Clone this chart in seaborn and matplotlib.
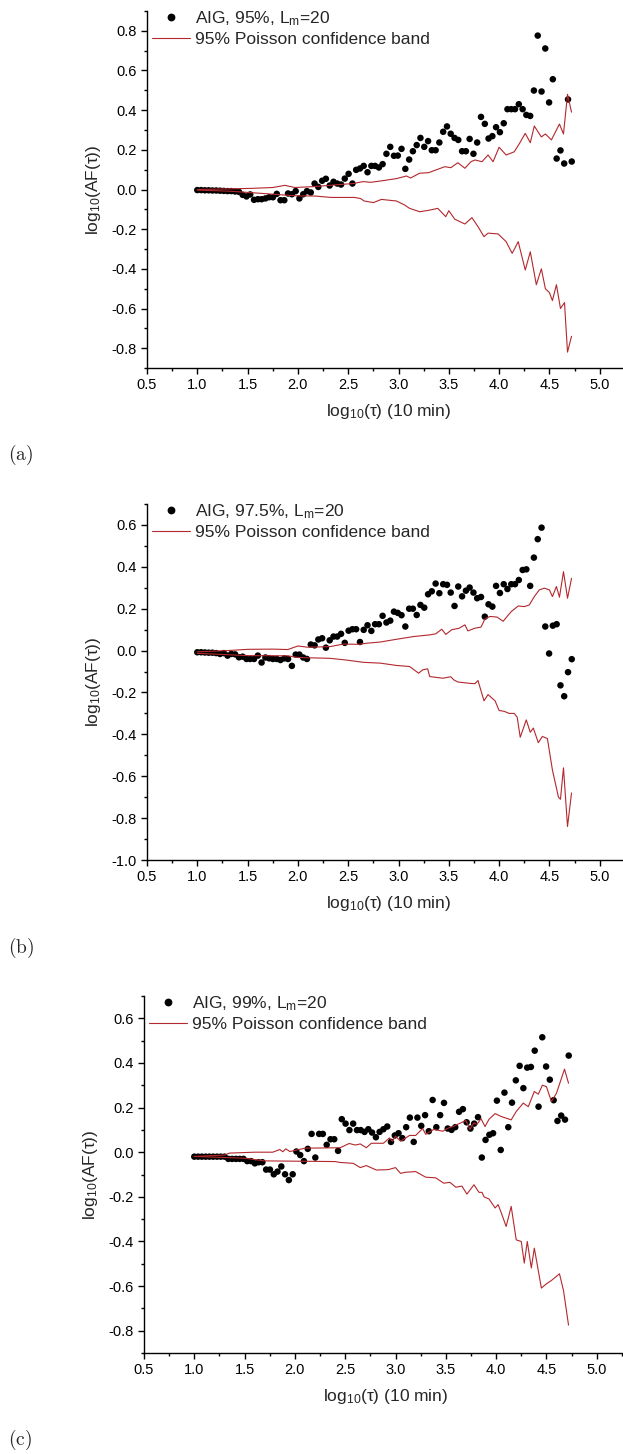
import numpy as np
import pandas as pd
import matplotlib
matplotlib.use('Agg')
import matplotlib.pyplot as plt
from matplotlib.lines import Line2D
from matplotlib.ticker import MultipleLocator, FormatStrFormatter
import seaborn as sns

# ---------------- data ----------------
log_tau = [1.000, 1.038, 1.075, 1.113, 1.150, 1.188, 1.226, 1.263, 1.301, 1.338,
           1.376, 1.414, 1.451, 1.489, 1.526, 1.564, 1.602, 1.639, 1.677, 1.714,
           1.752, 1.790, 1.827, 1.865, 1.902, 1.940, 1.978, 2.015, 2.053, 2.090,
           2.128, 2.166, 2.203, 2.241, 2.278, 2.316, 2.354, 2.391, 2.429, 2.466,
           2.504, 2.542, 2.579, 2.617, 2.654, 2.692, 2.730, 2.767, 2.805, 2.842,
           2.880, 2.918, 2.955, 2.993, 3.030, 3.068, 3.106, 3.143, 3.181, 3.218,
           3.256, 3.294, 3.331, 3.369, 3.406, 3.444, 3.482, 3.519, 3.557, 3.594,
           3.632, 3.670, 3.707, 3.745, 3.782, 3.820, 3.858, 3.895, 3.933, 3.970,
           4.008, 4.046, 4.083, 4.121, 4.158, 4.196, 4.234, 4.271, 4.309, 4.346,
           4.384, 4.422, 4.459, 4.497, 4.534, 4.572, 4.610, 4.647, 4.685, 4.722]

af_95 = [-0.003, -0.003, -0.004, -0.004, -0.005, -0.005, -0.006, -0.007, -0.008, -0.008,
         -0.010, -0.012, -0.027, -0.035, -0.025, -0.052, -0.049, -0.049, -0.045, -0.039,
         -0.039, -0.022, -0.054, -0.054, -0.020, -0.024, -0.008, -0.045, -0.024, -0.008,
         -0.015, 0.030, 0.013, 0.044, 0.054, 0.020, 0.039, 0.030, 0.025, 0.055,
         0.079, 0.030, 0.099, 0.106, 0.119, 0.087, 0.119, 0.119, 0.111, 0.128,
         0.180, 0.215, 0.170, 0.171, 0.205, 0.104, 0.151, 0.193, 0.224, 0.260,
         0.215, 0.244, 0.198, 0.198, 0.237, 0.291, 0.318, 0.281, 0.260, 0.250,
         0.193, 0.193, 0.255, 0.180, 0.237, 0.366, 0.331, 0.257, 0.269, 0.314,
         0.289, 0.334, 0.405, 0.405, 0.405, 0.430, 0.405, 0.376, 0.371, 0.499,
         0.776, 0.494, 0.711, 0.439, 0.556, 0.156, 0.197, 0.131, 0.454, 0.141]

af_975 = [-0.008, -0.008, -0.009, -0.010, -0.010, -0.012, -0.016, -0.012, -0.024, -0.016,
          -0.018, -0.032, -0.029, -0.040, -0.040, -0.040, -0.024, -0.057, -0.033, -0.037,
          -0.040, -0.040, -0.045, -0.037, -0.040, -0.073, -0.019, -0.019, -0.033, -0.040,
          0.029, 0.025, 0.053, 0.059, 0.014, 0.049, 0.067, 0.067, 0.080, 0.037,
          0.095, 0.102, 0.102, 0.041, 0.099, 0.121, 0.094, 0.126, 0.126, 0.166,
          0.134, 0.143, 0.186, 0.180, 0.169, 0.115, 0.200, 0.200, 0.170, 0.218,
          0.205, 0.269, 0.283, 0.320, 0.274, 0.317, 0.314, 0.277, 0.213, 0.306,
          0.259, 0.286, 0.301, 0.277, 0.250, 0.256, 0.162, 0.221, 0.210, 0.309,
          0.275, 0.317, 0.294, 0.317, 0.317, 0.337, 0.385, 0.388, 0.309, 0.444,
          0.532, 0.587, 0.115, -0.014, 0.119, 0.126, -0.166, -0.218, -0.103, -0.041]

af_99 = [-0.020, -0.020, -0.020, -0.020, -0.020, -0.020, -0.020, -0.020, -0.020, -0.030,
         -0.030, -0.030, -0.030, -0.030, -0.040, -0.040, -0.050, -0.045, -0.045, -0.078,
         -0.078, -0.099, -0.087, -0.064, -0.099, -0.125, -0.099, 0.003, -0.013, -0.040,
         0.015, 0.082, -0.024, 0.082, 0.082, 0.033, 0.058, 0.058, 0.006, 0.148,
         0.128, 0.099, 0.128, 0.099, 0.099, 0.091, 0.103, 0.088, 0.067, 0.091,
         0.103, 0.115, 0.046, 0.075, 0.085, 0.063, 0.112, 0.155, 0.046, 0.155,
         0.118, 0.166, 0.094, 0.234, 0.112, 0.166, 0.221, 0.106, 0.100, 0.112,
         0.181, 0.193, 0.134, 0.106, 0.128, 0.157, -0.024, 0.055, 0.078, 0.085,
         0.231, 0.010, 0.267, 0.112, 0.222, 0.322, 0.387, 0.287, 0.379, 0.382,
         0.455, 0.204, 0.515, 0.384, 0.325, 0.233, 0.140, 0.164, 0.146, 0.433]

# Poisson band, panel (a)
band_a_up_x = [1.00, 1.20, 1.40, 1.55, 1.75, 1.87, 1.97, 2.17, 2.44, 2.55, 2.65, 2.72, 2.85,
               2.98, 3.08, 3.12, 3.21, 3.30, 3.38, 3.46, 3.52, 3.59, 3.66, 3.72, 3.76, 3.83,
               3.89, 3.94, 4.00, 4.07, 4.15, 4.20, 4.26, 4.31, 4.35, 4.42, 4.46, 4.52, 4.60,
               4.64, 4.68, 4.72]
band_a_up_y = [0.000, 0.002, 0.004, 0.006, 0.010, 0.021, 0.010, 0.015, 0.026, 0.030, 0.040,
               0.036, 0.045, 0.055, 0.068, 0.058, 0.082, 0.085, 0.100, 0.115, 0.110, 0.135,
               0.107, 0.140, 0.149, 0.140, 0.174, 0.140, 0.213, 0.174, 0.190, 0.230, 0.283,
               0.236, 0.320, 0.265, 0.280, 0.250, 0.330, 0.280, 0.480, 0.390]
band_a_lo_x = [1.00, 1.30, 1.54, 1.87, 2.00, 2.17, 2.33, 2.56, 2.62, 2.66, 2.75, 2.83, 2.98,
               3.06, 3.11, 3.21, 3.30, 3.39, 3.47, 3.50, 3.56, 3.66, 3.73, 3.79, 3.85, 3.89,
               3.99, 4.07, 4.13, 4.19, 4.26, 4.31, 4.37, 4.42, 4.46, 4.50, 4.53, 4.57, 4.61,
               4.65, 4.68, 4.72]
band_a_lo_y = [-0.003, -0.008, -0.016, -0.028, -0.032, -0.033, -0.040, -0.040, -0.045, -0.058,
               -0.066, -0.050, -0.058, -0.078, -0.095, -0.112, -0.105, -0.095, -0.137, -0.107,
               -0.150, -0.174, -0.142, -0.187, -0.238, -0.220, -0.224, -0.263, -0.322, -0.263,
               -0.406, -0.314, -0.480, -0.400, -0.500, -0.520, -0.560, -0.480, -0.600, -0.570,
               -0.820, -0.740]

# Poisson band, panel (b)
band_b_up_x = [1.00, 1.30, 1.50, 1.75, 1.90, 2.00, 2.10, 2.32, 2.45, 2.61, 2.68, 2.82, 2.98,
               3.15, 3.31, 3.37, 3.43, 3.47, 3.53, 3.60, 3.66, 3.69, 3.76, 3.82, 3.86, 3.91,
               3.98, 4.04, 4.12, 4.19, 4.25, 4.30, 4.35, 4.40, 4.45, 4.50, 4.53, 4.57, 4.60,
               4.64, 4.68, 4.72]
band_b_up_y = [-0.006, 0.000, 0.006, 0.007, 0.005, 0.022, 0.016, 0.019, 0.031, 0.030, 0.035,
               0.041, 0.054, 0.067, 0.075, 0.080, 0.102, 0.077, 0.100, 0.106, 0.123, 0.094,
               0.107, 0.112, 0.152, 0.163, 0.160, 0.140, 0.186, 0.213, 0.210, 0.218, 0.258,
               0.290, 0.298, 0.290, 0.258, 0.306, 0.255, 0.377, 0.250, 0.345]
band_b_lo_x = [1.00, 1.50, 1.90, 2.00, 2.32, 2.48, 2.65, 2.82, 2.98, 3.11, 3.20, 3.24, 3.29,
               3.31, 3.44, 3.52, 3.55, 3.59, 3.70, 3.76, 3.79, 3.85, 3.89, 3.96, 4.00, 4.05,
               4.10, 4.15, 4.18, 4.21, 4.27, 4.31, 4.34, 4.39, 4.43, 4.48, 4.53, 4.59, 4.61,
               4.64, 4.68, 4.72]
band_b_lo_y = [-0.013, -0.024, -0.025, -0.033, -0.037, -0.045, -0.056, -0.060, -0.071, -0.076,
               -0.108, -0.092, -0.087, -0.124, -0.132, -0.125, -0.140, -0.150, -0.156, -0.158,
               -0.143, -0.240, -0.210, -0.240, -0.286, -0.290, -0.300, -0.300, -0.318, -0.414,
               -0.331, -0.390, -0.370, -0.440, -0.410, -0.420, -0.570, -0.700, -0.710, -0.560,
               -0.840, -0.680]

# Poisson band, panel (c)
band_c_up_x = [1.00, 1.30, 1.35, 1.60, 1.78, 1.85, 1.88, 1.91, 1.95, 2.00, 2.10, 2.45, 2.54,
               2.60, 2.65, 2.71, 2.76, 2.88, 2.94, 2.97, 3.00, 3.05, 3.14, 3.20, 3.27, 3.30,
               3.38, 3.47, 3.52, 3.58, 3.70, 3.74, 3.78, 3.81, 3.85, 3.89, 3.93, 3.99, 4.05,
               4.15, 4.20, 4.27, 4.32, 4.38, 4.42, 4.46, 4.50, 4.55, 4.60, 4.68, 4.72]
band_c_up_y = [-0.019, -0.013, -0.004, 0.000, 0.000, 0.012, 0.002, 0.015, 0.003, 0.008, 0.018,
               0.020, 0.039, 0.032, 0.037, 0.020, 0.040, 0.040, 0.064, 0.049, 0.072, 0.049,
               0.075, 0.075, 0.106, 0.080, 0.102, 0.094, 0.107, 0.117, 0.142, 0.102, 0.132,
               0.125, 0.150, 0.115, 0.148, 0.173, 0.160, 0.145, 0.182, 0.220, 0.204, 0.272,
               0.260, 0.300, 0.294, 0.227, 0.264, 0.372, 0.309]
band_c_lo_x = [1.00, 1.50, 1.70, 2.40, 2.45, 2.58, 2.65, 2.71, 2.81, 2.93, 3.00, 3.05, 3.10,
               3.20, 3.30, 3.40, 3.48, 3.54, 3.60, 3.66, 3.71, 3.78, 3.83, 3.86, 3.88, 3.93,
               3.99, 4.02, 4.05, 4.10, 4.15, 4.20, 4.25, 4.28, 4.31, 4.35, 4.38, 4.45, 4.50,
               4.55, 4.63, 4.67, 4.72]
band_c_lo_y = [-0.019, -0.027, -0.039, -0.042, -0.046, -0.050, -0.069, -0.060, -0.080, -0.078,
               -0.069, -0.095, -0.090, -0.087, -0.112, -0.115, -0.139, -0.135, -0.157, -0.152,
               -0.188, -0.146, -0.180, -0.180, -0.200, -0.210, -0.250, -0.235, -0.270, -0.333,
               -0.243, -0.393, -0.400, -0.497, -0.400, -0.519, -0.430, -0.609, -0.590, -0.575,
               -0.545, -0.620, -0.775]

series_labels = ['AIG, 95%, L$_{\\mathrm{m}}$=20',
                 'AIG, 97.5%, L$_{\\mathrm{m}}$=20',
                 'AIG, 99%, L$_{\\mathrm{m}}$=20']
band_label = '95% Poisson confidence band'
panel_letters = ['(a)', '(b)', '(c)']
x_label = 'log$_{\\mathrm{10}}$(\u03c4) (10 min)'
y_label = 'log$_{\\mathrm{10}}$(AF(\u03c4))'

# ---------------- style ----------------
sns.set_style('ticks')
plt.rcParams['font.family'] = ['Liberation Sans', 'DejaVu Sans']
plt.rcParams['mathtext.fontset'] = 'custom'
plt.rcParams['mathtext.rm'] = 'Liberation Sans'
plt.rcParams['mathtext.it'] = 'Liberation Sans:italic'
plt.rcParams['mathtext.bf'] = 'Liberation Sans:bold'
plt.rcParams['axes.unicode_minus'] = False

RED = '#b3282d'
W, H = 623.0, 1454.0
fig = plt.figure(figsize=(W / 100, H / 100), dpi=100)

# (left px, top px, bottom px, ylim, letter y px)
layout = [(147, 11, 368, (-0.9, 0.9), 455),
          (147, 504, 860, (-1.0, 0.7), 948),
          (144, 996, 1353, (-0.9, 0.7), 1440)]
pts = [af_95, af_975, af_99]
bands = [(band_a_up_x, band_a_up_y, band_a_lo_x, band_a_lo_y),
         (band_b_up_x, band_b_up_y, band_b_lo_x, band_b_lo_y),
         (band_c_up_x, band_c_up_y, band_c_lo_x, band_c_lo_y)]

px_per_unit = 100.6
for k in range(3):
    left, top, bottom, ylim, ly = layout[k]
    xmin, xmax = 0.5, 5.3
    width_px = (xmax - xmin) * px_per_unit
    ax = fig.add_axes([left / W, 1 - bottom / H, width_px / W, (bottom - top) / H])

    df = pd.DataFrame({'x': log_tau, 'y': pts[k]})
    sns.scatterplot(data=df, x='x', y='y', ax=ax, color='black', s=22,
                    edgecolor='none', linewidth=0, legend=False, zorder=2)
    ux, uy, lx, lyy = bands[k]
    sns.lineplot(x=ux, y=uy, ax=ax, color=RED, lw=0.8, estimator=None,
                 sort=False, zorder=3)
    sns.lineplot(x=lx, y=lyy, ax=ax, color=RED, lw=0.8, estimator=None,
                 sort=False, zorder=3)

    ax.set_xlim(xmin, xmax)
    ax.set_ylim(*ylim)
    ax.xaxis.set_major_locator(MultipleLocator(0.5))
    ax.xaxis.set_minor_locator(MultipleLocator(0.25))
    ax.yaxis.set_major_locator(MultipleLocator(0.2))
    ax.yaxis.set_minor_locator(MultipleLocator(0.1))
    ax.xaxis.set_major_formatter(FormatStrFormatter('%.1f'))
    ax.yaxis.set_major_formatter(FormatStrFormatter('%.1f'))
    ax.tick_params(which='major', direction='out', length=4.5, width=1.0,
                   labelsize=10.5, pad=3, color='black', labelcolor='black')
    ax.tick_params(which='minor', direction='out', length=2.5, width=1.0, color='black')
    for s in ['top', 'right']:
        ax.spines[s].set_visible(False)
    for s in ['left', 'bottom']:
        ax.spines[s].set_linewidth(1.0)
        ax.spines[s].set_color('black')

    ax.set_xlabel(x_label, fontsize=12.5, labelpad=7)
    ax.set_ylabel(y_label, fontsize=12.5, labelpad=6)

    h1 = Line2D([], [], marker='o', ls='none', color='black', markersize=4.6)
    h2 = Line2D([], [], color=RED, lw=0.8)
    ax.legend([h1, h2], [series_labels[k], band_label], loc='upper left',
              bbox_to_anchor=(5 / width_px, 1.005), frameon=False, fontsize=12.5,
              handlelength=2.2, handletextpad=0.3, labelspacing=0.25,
              borderpad=0, borderaxespad=0)

    fig.text(8 / W, 1 - ly / H, '$\\mathrm{' + panel_letters[k] + '}$',
             fontsize=14, ha='left', va='center', math_fontfamily='cm')

fig.savefig('out.png', dpi=100)
